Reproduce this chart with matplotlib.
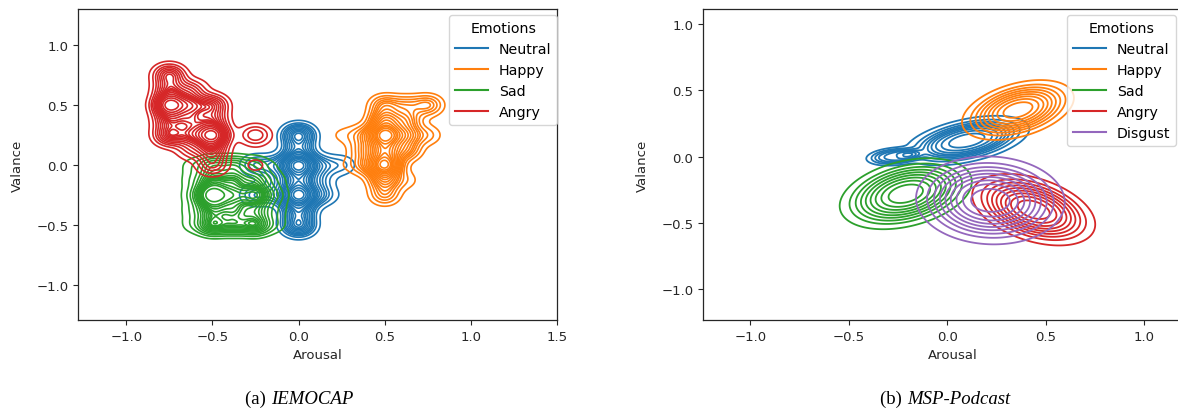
import matplotlib.pyplot as plt
import numpy as np
from matplotlib.lines import Line2D

# ---- IEMOCAP: annotation grid points (arousal, valence, weight) per emotion
iemo_neutral_x = [0, 0, 0, 0, 0, 0, 0, -0.125, -0.125, -0.125, 0.125, 0.125, 0.125, -0.25, -0.25, -0.25, 0.25, 0.25]
iemo_neutral_y = [0.25, 0.125, 0, -0.125, -0.25, -0.375, -0.5, 0, -0.125, -0.25, 0, -0.125, -0.25, 0, -0.25, -0.5, 0, -0.25]
iemo_neutral_w = [0.5, 0.3, 1.0, 0.5, 1.0, 0.4, 0.5, 0.2, 0.12, 0.15, 0.2, 0.12, 0.2, 0.2, 0.2, 0.05, 0.13, 0.02]

iemo_happy_x = [0.5, 0.5, 0.5, 0.5, 0.5, 0.5, 0.5, 0.625, 0.625, 0.625, 0.625, 0.75, 0.75, 0.375, 0.375, 0.375, 0.25, 0.25, 0.625]
iemo_happy_y = [0.25, 0.0, 0.125, 0.375, 0.5, -0.125, -0.25, 0.25, 0.125, 0.375, 0.5, 0.5, 0.25, 0.25, 0.0, 0.125, 0.25, 0.0, -0.125]
iemo_happy_w = [1.0, 1.0, 0.6, 0.5, 0.3, 0.4, 0.25, 0.4, 0.3, 0.3, 0.2, 0.3, 0.15, 0.2, 0.2, 0.2, 0.08, 0.04, 0.1]

iemo_sad_x = [-0.625, -0.5, -0.375, -0.25, -0.125] * 5
iemo_sad_y = [0] * 5 + [-0.125] * 5 + [-0.25] * 5 + [-0.375] * 5 + [-0.5] * 5
iemo_sad_w = [0.1, 0.3, 0.3, 0.2, 0.05,
              0.1, 0.4, 0.4, 0.3, 0.1,
              0.1, 1.0, 0.5, 0.6, 0.15,
              0.1, 0.4, 0.4, 0.3, 0.1,
              0.1, 0.5, 0.4, 0.5, 0.1]

iemo_angry_x = [-0.75, -0.75, -0.625, -0.5, -0.625, -0.75, -0.75, -0.625, -0.75, -0.625, -0.5, -0.5, -0.5, -0.625, -0.5, -0.5, -0.25, -0.25]
iemo_angry_y = [0.75, 0.5, 0.5, 0.5, 0.625, 0.625, 0.375, 0.375, 0.25, 0.25, 0.25, 0.375, 0.125, 0.125, 0.0, 0.72, 0.25, 0.0]
iemo_angry_w = [0.5, 1.0, 0.5, 0.45, 0.3, 0.4, 0.4, 0.4, 0.5, 0.4, 1.0, 0.35, 0.4, 0.2, 0.3, 0.02, 0.3, 0.1]

# ---- MSP-Podcast: blobs (cx, cy, half major, half minor, angle deg, weight), outer extent
msp_neutral = [(0.1, 0.12, 0.34, 0.16, 20, 1.0), (-0.27, 0.0, 0.15, 0.07, 8, 0.15)]
msp_happy = [(0.36, 0.35, 0.31, 0.19, 30, 1.0)]
msp_sad = [(-0.21, -0.28, 0.36, 0.235, 28, 1.0)]
msp_angry = [(0.44, -0.4, 0.35, 0.22, -35, 1.0)]
msp_disgust = [(0.22, -0.33, 0.38, 0.33, -10, 1.0)]

colors = {'Neutral': '#1f77b4', 'Happy': '#ff7f0e', 'Sad': '#2ca02c', 'Angry': '#d62728', 'Disgust': '#9467bd'}


def points_density(X, Y, px, py, pw, bw):
    Z = np.zeros_like(X)
    for x0, y0, w in zip(px, py, pw):
        Z += w * np.exp(-((X - x0) ** 2 + (Y - y0) ** 2) / (2 * bw ** 2))
    return Z


def blob_density(X, Y, blobs):
    Z = np.zeros_like(X)
    for cx, cy, a, b, ang, w in blobs:
        t = np.deg2rad(ang)
        u = (X - cx) * np.cos(t) + (Y - cy) * np.sin(t)
        v = -(X - cx) * np.sin(t) + (Y - cy) * np.cos(t)
        a, b = a / 1.18, b / 1.18
        q = (u / a) ** 2 + (v / b) ** 2
        Z += w * np.exp(-q ** 2) / (a * b)
    return Z


def iso_levels(Z, n=10, thresh=0.05):
    # iso-proportion levels like seaborn kdeplot
    props = np.linspace(thresh, 1, n)
    vals = np.sort(Z.ravel())[::-1]
    cum = np.cumsum(vals) / vals.sum()
    idx = np.searchsorted(cum, 1 - props)
    lv = np.unique(np.take(vals, idx, mode='clip'))
    return lv[lv < vals[0]]


def style(ax):
    ax.set_xlabel('Arousal', fontsize=9.5, color='#262626')
    ax.set_ylabel('Valance', fontsize=9.5, color='#262626', labelpad=9)
    ax.tick_params(labelsize=9.5, labelcolor='#262626', color='#262626')
    for s in ax.spines.values():
        s.set_color('#262626')
        s.set_linewidth(0.9)


fig = plt.figure(figsize=(11.78, 4.10), dpi=100)
ax1 = fig.add_axes([78 / 1178, 89 / 410, 479 / 1178, 311 / 410])
ax2 = fig.add_axes([703 / 1178, 89 / 410, 500 / 1178, 311 / 410])

# left: IEMOCAP
gx = np.linspace(-1.28, 1.5, 600)
gy = np.linspace(-1.3, 1.3, 600)
X, Y = np.meshgrid(gx, gy)
iemo = [('Neutral', iemo_neutral_x, iemo_neutral_y, iemo_neutral_w),
        ('Happy', iemo_happy_x, iemo_happy_y, iemo_happy_w),
        ('Sad', iemo_sad_x, iemo_sad_y, iemo_sad_w),
        ('Angry', iemo_angry_x, iemo_angry_y, iemo_angry_w)]
for name, px, py, pw in iemo:
    Z = points_density(X, Y, px, py, pw, 0.06)
    ax1.contour(X, Y, Z, levels=iso_levels(Z, 18), colors=colors[name], linewidths=1.2)
ax1.set_xlim(-1.28, 1.5)
ax1.set_ylim(-1.29, 1.3)
ax1.set_xticks([-1.0, -0.5, 0.0, 0.5, 1.0, 1.5])
ax1.set_yticks([-1.0, -0.5, 0.0, 0.5, 1.0])
style(ax1)
h1 = [Line2D([], [], color=colors[n], lw=1.5) for n, _, _, _ in iemo]
ax1.legend(h1, [n for n, _, _, _ in iemo], title='Emotions', loc='upper right',
           bbox_to_anchor=(557 / 1178, 1 - 16 / 410), bbox_transform=fig.transFigure, borderaxespad=0,
           handlelength=2.3, fontsize=10.2, title_fontsize=10.2, edgecolor='0.8')

# right: MSP-Podcast
gx = np.linspace(-1.24, 1.3, 600)
gy = np.linspace(-1.23, 1.11, 600)
X, Y = np.meshgrid(gx, gy)
msp = [('Neutral', msp_neutral), ('Happy', msp_happy), ('Sad', msp_sad),
       ('Angry', msp_angry), ('Disgust', msp_disgust)]
for name, blobs in msp:
    Z = blob_density(X, Y, blobs)
    ax2.contour(X, Y, Z, levels=iso_levels(Z, 10), colors=colors[name], linewidths=1.3)
ax2.set_xlim(-1.24, 1.3)
ax2.set_ylim(-1.23, 1.11)
ax2.set_xticks([-1.0, -0.5, 0.0, 0.5, 1.0])
ax2.set_yticks([-1.0, -0.5, 0.0, 0.5, 1.0])
style(ax2)
h2 = [Line2D([], [], color=colors[n], lw=1.5) for n, _ in msp]
ax2.legend(h2, [n for n, _ in msp], title='Emotions', loc='upper right',
           bbox_to_anchor=(1176 / 1178, 1 - 16 / 410), bbox_transform=fig.transFigure, borderaxespad=0,
           handlelength=2.3, fontsize=10.2, title_fontsize=10.2, edgecolor='0.8')

# captions
fig.text(271 / 1178, 1 - 404 / 410, '(a) ', ha='right', va='baseline', family='Liberation Serif', fontsize=13.5)
fig.text(271 / 1178, 1 - 404 / 410, 'IEMOCAP', ha='left', va='baseline', family='Liberation Serif', style='italic', fontsize=13.5)
fig.text(907 / 1178, 1 - 404 / 410, '(b) ', ha='right', va='baseline', family='Liberation Serif', fontsize=13.5)
fig.text(907 / 1178, 1 - 404 / 410, 'MSP-Podcast', ha='left', va='baseline', family='Liberation Serif', style='italic', fontsize=13.5)

fig.savefig('out.png', dpi=100)
